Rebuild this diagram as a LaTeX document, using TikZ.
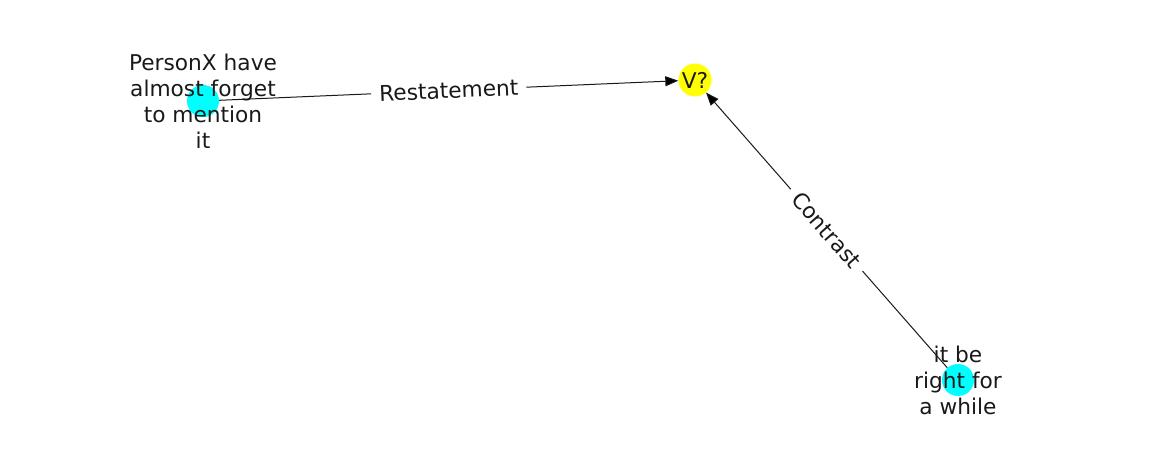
\documentclass[tikz,border=0pt]{standalone}
\usepackage{fontspec}
\setmainfont{DejaVu Sans}
\usetikzlibrary{arrows.meta, positioning}
\definecolor{conceptcyan}{RGB}{0,255,255}
\definecolor{conceptyellow}{RGB}{255,255,0}

\begin{document}
\begin{tikzpicture} [x = 1pt, y = -1pt,
			every node/.style = {font = \fontsize{21.7}{26}\selectfont,
				text = black!90
			},
			concept/.style = {circle, minimum size = 32pt, inner sep = 0pt},
			relation/.style = {sloped, fill = white, inner xsep = 8pt, inner ysep = 2pt}
			]
			\useasboundingbox (0,0) rectangle (1162,462);
			% Concepts
			\node (px) [concept, fill = conceptcyan] at (203,101) {};
			\node (v) [concept, fill = conceptyellow, minimum size = 33pt] at (695,80) {};
			\node (rb) [concept, fill = conceptcyan] at (958,380) {};
			% Relations
			\path [-{Triangle[length = 13pt, width = 10pt]}, line width = 1pt, draw = black!90]
			
			(px) edge node [relation] {Restatement} (v)
			(rb) edge node [relation] {Contrast} (v);
			
			% Texts
			\node (px-text) [align = center] at (px) {PersonX have\\almost forget\\to mention\\it};
			\node (v-text) at (v) {V?};
			\node (rb-text) [align = center] at (rb) {it be\\right for\\a while};
		\end{tikzpicture}
\end{document}
